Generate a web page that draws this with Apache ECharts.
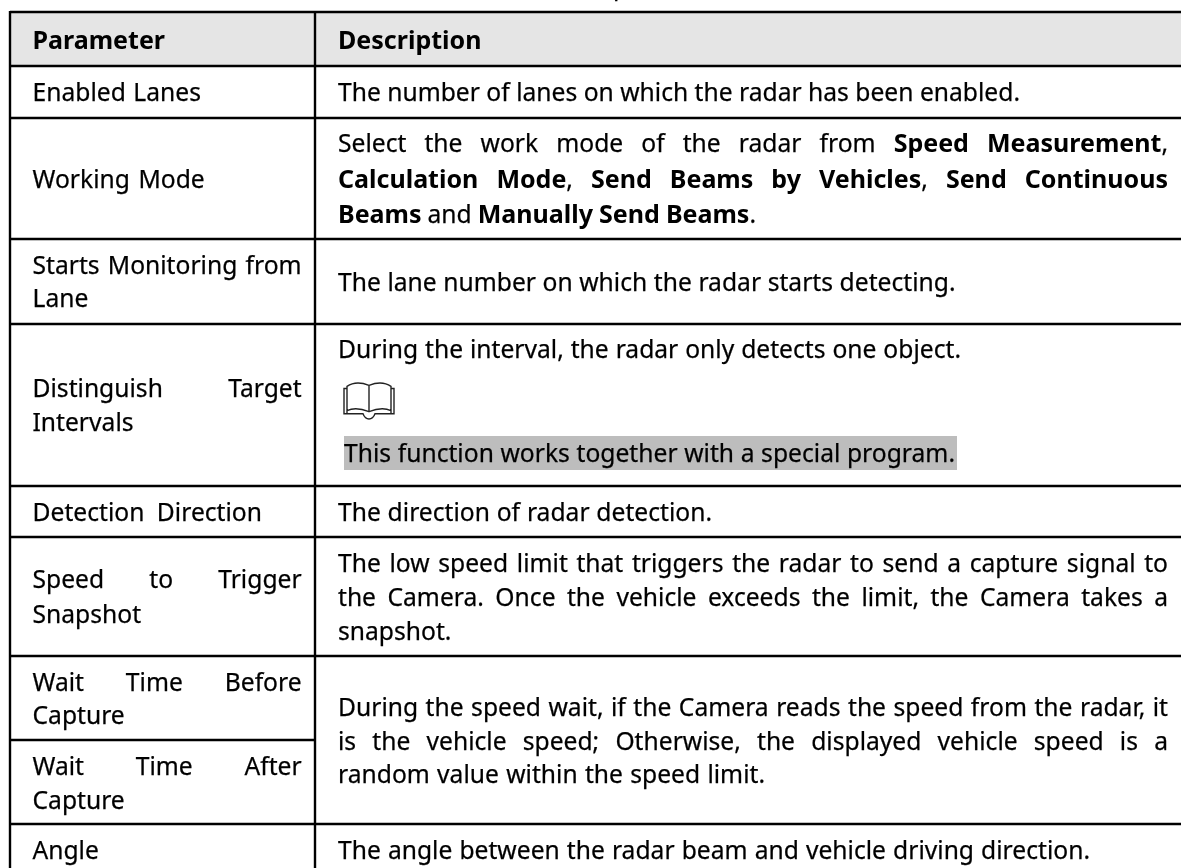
<!DOCTYPE html>
<html><head><meta charset="utf-8">
<style>html,body{margin:0;padding:0;background:#fff}#c{width:1181px;height:868px}</style>
<script src="https://cdn.jsdelivr.net/npm/echarts@6/dist/echarts.min.js"></script>
</head><body><div id="c"></div>
<script>
// ---- content ----
const headerCells = ['Parameter', 'Description'];
const parameterLines = [
  'Enabled Lanes', 'Working Mode', 'Starts Monitoring from', 'Lane',
  'Distinguish Target', 'Intervals', 'Detection Direction',
  'Speed to Trigger', 'Snapshot', 'Wait Time Before', 'Capture',
  'Wait Time After', 'Capture', 'Angle'
];
const descriptionLines = [
  'The number of lanes on which the radar has been enabled.',
  'Select the work mode of the radar from **Speed Measurement**,',
  '**Calculation Mode**, **Send Beams by Vehicles**, **Send Continuous**',
  '**Beams** and **Manually Send Beams**.',
  'The lane number on which the radar starts detecting.',
  'During the interval, the radar only detects one object.',
  'This function works together with a special program.',
  'The direction of radar detection.',
  'The low speed limit that triggers the radar to send a capture signal to',
  'the Camera. Once the vehicle exceeds the limit, the Camera takes a',
  'snapshot.',
  'During the speed wait, if the Camera reads the speed from the radar, it',
  'is the vehicle speed; Otherwise, the displayed vehicle speed is a',
  'random value within the speed limit.',
  'The angle between the radar beam and vehicle driving direction.'
];
// ---- layout ----
const paramBaselines = [101,188,274,307,397,431,521,588,623,691,724,775,809,859];
const paramEnds = [201,204.7,301.6,null,301.6,null,262,301.6,null,301.6,null,301.6,null,null];
const descBaselines = [101,152,188,223,291,358,462,521,572,606,640,716,750,783,859];
const descEnds = [1020,1168,1168,756,955.5,961,955,712,1168,1168,null,1168,1168,765,1090];
const descX = [338,338,338,338,338,338,344,338,338,338,338,338,338,338,338];
const hLines = [12,66,118,239,324,486,537,656,824];
const hLineLeftOnly = [740];
const vLines = [10,315];
const W = 1181, H = 868, colLeft = 32.5, headerBase = 49;
const FONT = '"Noto Sans"', SIZE = 25.5;

const ctx = document.createElement('canvas').getContext('2d');
function font(b){ return (b?'bold ':'')+SIZE+'px '+FONT; }
function mw(s,b){ ctx.font=font(b); return ctx.measureText(s).width; }
ctx.font=font(false); ctx.textBaseline='middle';
const midOffset = -ctx.measureText('H').alphabeticBaseline;
const sxReg = 682 / mw(descriptionLines[0], false);
const sxBold = 132.5 / mw('Parameter', true);

function parse(line){
  const words=[];
  line.split('**').forEach((part,i)=>{
    const bold = i%2===1;
    part.split(' ').forEach((t,j)=>{
      if(j>0 || !words.length) words.push([]);
      if(t) words[words.length-1].push({t,b:bold});
    });
  });
  return words.filter(w=>w.length);
}
const items=[];
function place(line,x,base,endX){
  const words=parse(line);
  const ww=words.map(w=>w.reduce((a,r)=>a+mw(r.t,r.b)*(r.b?sxBold:sxReg),0));
  const total=ww.reduce((a,b)=>a+b,0);
  const gap=endX!=null && words.length>1 ? (endX-x-total)/(words.length-1) : mw(' ',false)*sxReg;
  let cx=x;
  words.forEach((w,i)=>{
    let rx=cx;
    w.forEach(r=>{ items.push([rx,base,r.t,r.b?1:0]); rx+=mw(r.t,r.b)*(r.b?sxBold:sxReg); });
    cx+=ww[i]+gap;
  });
}
place('**'+headerCells[0]+'**',colLeft,headerBase);
place('**'+headerCells[1]+'**',338,headerBase,481);
parameterLines.forEach((l,i)=>place(l,colLeft,paramBaselines[i],paramEnds[i]));
descriptionLines.forEach((l,i)=>place(l,descX[i],descBaselines[i],descEnds[i]));
items.push([613,-5.5,'p',0]);

const fillCells=[[10,12,W,66,'#e5e5e5'],[344,436,957,470,'#bdbdbd']];
const segs=[];
hLines.forEach(y=>segs.push([10,y,W,y]));
hLineLeftOnly.forEach(y=>segs.push([10,y,315,y]));
vLines.forEach(x=>segs.push([x,11,x,H]));
const bookIcon=[[344,383,394,419]];
const bookPath='M3,5 V28 Q12,24 25,29 Q38,24 47,28 V5 Q38,-1 25,4 Q12,-1 3,5 Z M25,4 V29 M3,7 H0 V31 H19 Q21,36 25,36 Q29,36 31,31 H50 V7 H47 M3,28 V31 M47,28 V31';

const chart=echarts.init(document.getElementById('c'),null,{renderer:'canvas'});
chart.setOption({
  animation:false,
  grid:{left:0,right:0,top:0,bottom:0},
  xAxis:{type:'value',min:0,max:W,show:false},
  yAxis:{type:'value',min:0,max:H,inverse:true,show:false},
  tooltip:{show:false},
  series:[
    {type:'custom',silent:true,clip:false,data:fillCells,z:1,
     renderItem:(p,api)=>{
       const a=api.coord([api.value(0),api.value(1)]),b=api.coord([api.value(2),api.value(3)]);
       return {type:'rect',shape:{x:a[0],y:a[1],width:b[0]-a[0],height:b[1]-a[1]},style:{fill:fillCells[p.dataIndex][4]}};
     }},
    {type:'custom',silent:true,clip:false,data:segs,z:2,
     renderItem:(p,api)=>{
       const a=api.coord([api.value(0),api.value(1)]),b=api.coord([api.value(2),api.value(3)]);
       return {type:'line',shape:{x1:a[0],y1:a[1],x2:b[0],y2:b[1]},style:{stroke:'#000',lineWidth:2.4}};
     }},
    {type:'custom',silent:true,clip:false,data:bookIcon,z:3,
     renderItem:(p,api)=>{
       const a=api.coord([api.value(0),api.value(1)]),b=api.coord([api.value(2),api.value(3)]);
       return {type:'path',shape:{pathData:bookPath,x:a[0],y:a[1],width:b[0]-a[0],height:b[1]-a[1],layout:'cover'},style:{fill:'none',stroke:'#222',lineWidth:1.4}};
     }},
    {type:'custom',silent:true,clip:false,data:items.map(d=>[d[0],d[1],d[3]]),z:4,
     renderItem:(p,api)=>{
       const it=items[p.dataIndex];
       const a=api.coord([it[0],it[1]]);
       return {type:'text',x:a[0],y:a[1]-midOffset,scaleX:it[3]?sxBold:sxReg,
         style:{text:it[2],fill:'#000',stroke:'#000',lineWidth:it[3]?0:0.25,font:font(!!it[3]),align:'left',verticalAlign:'middle'}};
     }}
  ]
});
</script></body></html>
